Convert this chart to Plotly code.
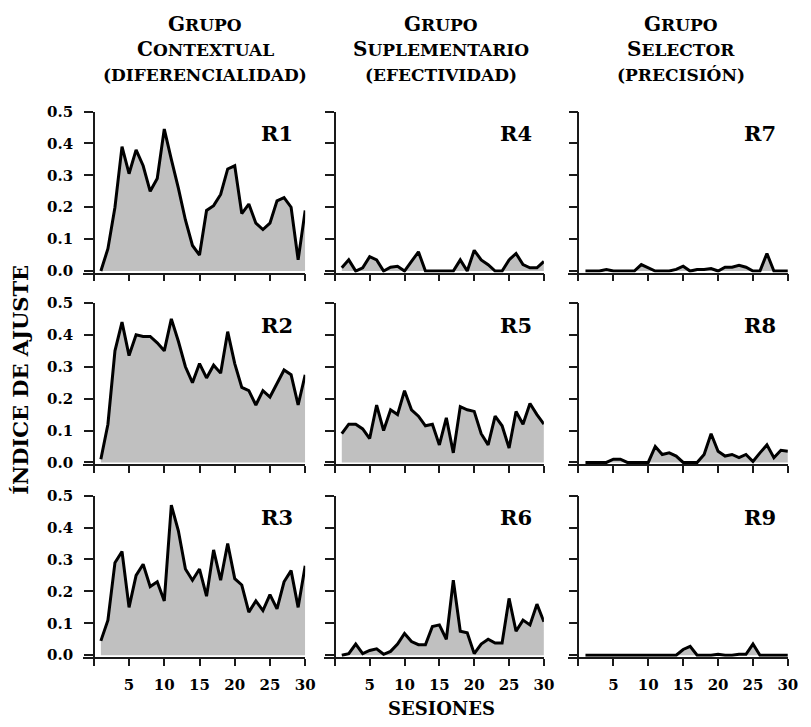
import plotly.graph_objects as go

sessions = list(range(1, 31))

r1 = [0.0, 0.07, 0.20, 0.39, 0.305, 0.38, 0.33, 0.25, 0.29, 0.445,
      0.35, 0.26, 0.16, 0.08, 0.05, 0.19, 0.205, 0.24, 0.32, 0.33,
      0.18, 0.21, 0.15, 0.13, 0.15, 0.22, 0.23, 0.20, 0.035, 0.19]
r2 = [0.01, 0.12, 0.35, 0.44, 0.335, 0.40, 0.395, 0.395, 0.375, 0.35,
      0.45, 0.38, 0.30, 0.25, 0.31, 0.265, 0.305, 0.28, 0.41, 0.31,
      0.235, 0.225, 0.18, 0.225, 0.205, 0.25, 0.29, 0.275, 0.18, 0.275]
r3 = [0.045, 0.11, 0.29, 0.325, 0.15, 0.25, 0.285, 0.215, 0.23, 0.17,
      0.47, 0.39, 0.27, 0.235, 0.27, 0.185, 0.33, 0.235, 0.35, 0.24,
      0.22, 0.135, 0.17, 0.14, 0.19, 0.145, 0.23, 0.265, 0.15, 0.28]
r4 = [0.01, 0.035, 0.0, 0.01, 0.045, 0.035, 0.0, 0.012, 0.015, 0.0,
      0.03, 0.06, 0.0, 0.0, 0.0, 0.0, 0.0, 0.035, 0.0, 0.065,
      0.035, 0.02, 0.0, 0.0, 0.035, 0.055, 0.02, 0.01, 0.01, 0.03]
r5 = [0.09, 0.12, 0.12, 0.105, 0.075, 0.18, 0.10, 0.165, 0.15, 0.225,
      0.165, 0.145, 0.115, 0.12, 0.055, 0.14, 0.03, 0.175, 0.165, 0.16,
      0.09, 0.055, 0.145, 0.115, 0.045, 0.16, 0.12, 0.185, 0.15, 0.12]
r6 = [0.0, 0.005, 0.035, 0.005, 0.015, 0.02, 0.003, 0.012, 0.035, 0.068,
      0.043, 0.033, 0.033, 0.09, 0.095, 0.05, 0.235, 0.075, 0.07, 0.005,
      0.035, 0.05, 0.038, 0.038, 0.178, 0.075, 0.11, 0.095, 0.16, 0.105]
r7 = [0.0, 0.0, 0.0, 0.005, 0.0, 0.0, 0.0, 0.0, 0.02, 0.01,
      0.0, 0.0, 0.0, 0.005, 0.015, 0.0, 0.005, 0.005, 0.008, 0.0,
      0.012, 0.012, 0.018, 0.012, 0.0, 0.0, 0.055, 0.0, 0.0, 0.0]
r8 = [0.0, 0.0, 0.0, 0.0, 0.01, 0.01, 0.0, 0.0, 0.0, 0.0,
      0.05, 0.025, 0.03, 0.02, 0.0, 0.0, 0.0, 0.025, 0.09, 0.035,
      0.02, 0.025, 0.015, 0.025, 0.003, 0.03, 0.055, 0.015, 0.038, 0.035]
r9 = [0.0, 0.0, 0.0, 0.0, 0.0, 0.0, 0.0, 0.0, 0.0, 0.0,
      0.0, 0.0, 0.0, 0.0, 0.018, 0.028, 0.0, 0.0, 0.0, 0.003,
      0.0, 0.0, 0.003, 0.003, 0.035, 0.0, 0.0, 0.0, 0.0, 0.0]

# column-major: column 1 = R1..R3, column 2 = R4..R6, column 3 = R7..R9
series = [r1, r2, r3, r4, r5, r6, r7, r8, r9]
panel_labels = ["R1", "R2", "R3", "R4", "R5", "R6", "R7", "R8", "R9"]

column_titles = [
    ("Grupo", "Contextual", "(DIFERENCIALIDAD)"),
    ("Grupo", "Suplementario", "(EFECTIVIDAD)"),
    ("Grupo", "Selector", "(PRECISIÓN)"),
]
y_title = "ÍNDICE DE AJUSTE"
x_title = "SESIONES"

y_tick_vals = [0.0, 0.1, 0.2, 0.3, 0.4, 0.5]
x_tick_vals = [0, 5, 10, 15, 20, 25, 30]
x_tick_text = ["", "5", "10", "15", "20", "25", "30"]

# ---------------- layout geometry (pixels) ----------------
W, H = 811, 727
X_MIN, X_MAX = -1.5, 30
Y_MIN, Y_MAX = -0.005, 0.5
col_px = [(95, 309), (339, 550.7), (585.7, 797.7)]  # (x=0 pixel, x=30 pixel)
row_px = [(105, 268.3), (301, 464.3), (498.3, 661.7)]  # (y=0.5 pixel, y=0 pixel)
title_cx = [208, 447, 690]
title_line_y = [15, 41, 68]

FONT = "DejaVu Serif"
AX_COLOR = "#1a1a1a"

fig = go.Figure()
layout = dict(
    width=W, height=H, autosize=False,
    margin=dict(l=0, r=0, t=0, b=0, pad=0),
    paper_bgcolor="white", plot_bgcolor="white",
    showlegend=False,
    font=dict(family=FONT, color="black", size=14, weight="bold"),
)
annotations = []

for idx, vals in enumerate(series):
    col, row = divmod(idx, 3)
    k = idx + 1
    xs = "x" if k == 1 else f"x{k}"
    ys = "y" if k == 1 else f"y{k}"
    xkey = "xaxis" if k == 1 else f"xaxis{k}"
    ykey = "yaxis" if k == 1 else f"yaxis{k}"

    x0p, x30p = col_px[col]
    ppu = (x30p - x0p) / 30.0
    left = x0p + X_MIN * ppu
    top, zero = row_px[row]
    ppy = (zero - top) / 0.5
    bottom = zero - Y_MIN * ppy

    fig.add_trace(go.Scatter(
        x=sessions, y=vals, xaxis=xs, yaxis=ys,
        mode="lines", fill="tozeroy", fillcolor="#c0c0c0",
        line=dict(color="black", width=3),
        hoverinfo="skip",
    ))

    layout[xkey] = dict(
        domain=[left / W, x30p / W], range=[X_MIN, X_MAX], anchor=ys,
        showgrid=False, zeroline=False, showline=True, linecolor=AX_COLOR, linewidth=1.5,
        ticks="outside", ticklen=7, tickwidth=1.5, tickcolor=AX_COLOR,
        tickvals=x_tick_vals, ticktext=x_tick_text,
        showticklabels=(row == 2), ticklabelstandoff=6,
        tickfont=dict(family=FONT, size=15, color="black", weight="bold"),
    )
    layout[ykey] = dict(
        domain=[1 - bottom / H, 1 - top / H], range=[Y_MIN, Y_MAX],
        anchor="free", position=x0p / W,
        showgrid=False, zeroline=False, showline=True, linecolor=AX_COLOR, linewidth=1.5,
        ticks="outside", ticklen=9, tickwidth=1.5, tickcolor=AX_COLOR,
        tickvals=y_tick_vals, tickformat=".1f",
        showticklabels=(col == 0), ticklabelstandoff=8,
        tickfont=dict(family=FONT, size=15, color="black", weight="bold"),
    )

    annotations.append(dict(
        x=28.6, y=0.43, xref=xs, yref=ys, xanchor="right", yanchor="middle",
        text=panel_labels[idx], showarrow=False,
        font=dict(family=FONT, size=21, color="black", weight="bold"),
    ))


def small_caps(word, small=17):
    return (word[0].upper()
            + f"<span style='font-size:{small}px'>{word[1:].upper()}</span>")


for c, (a, b, d) in enumerate(column_titles):
    lines = [(small_caps(a), 20), (small_caps(b), 20), (d, 17)]
    for (txt, size), ly in zip(lines, title_line_y):
        annotations.append(dict(
            x=title_cx[c] / W, y=1 - ly / H, xref="paper", yref="paper",
            xanchor="center", yanchor="middle", showarrow=False,
            text=txt,
            font=dict(family=FONT, size=size, color="black", weight="bold"),
        ))

annotations.append(dict(
    x=20 / W, y=1 - 380 / H, xref="paper", yref="paper",
    xanchor="center", yanchor="middle", textangle=-90, showarrow=False,
    text=y_title, font=dict(family=FONT, size=21, color="black", weight="bold"),
))
annotations.append(dict(
    x=447 / W, y=1 - 716 / H, xref="paper", yref="paper",
    xanchor="center", yanchor="middle", showarrow=False,
    text=x_title, font=dict(family=FONT, size=18, color="black", weight="bold"),
))

layout["annotations"] = annotations
fig.update_layout(**layout)
fig.write_html(
    "out.html",
    config={"displayModeBar": False},
    post_script="document.body.style.margin='0';document.body.style.overflow='hidden';",
)
